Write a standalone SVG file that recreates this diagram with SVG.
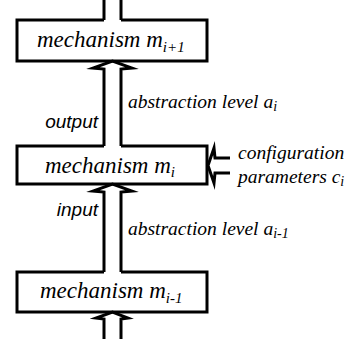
<svg xmlns="http://www.w3.org/2000/svg" width="347" height="339" viewBox="0 0 347 339">
  <style>
    .box { fill: none; stroke: #000; stroke-width: 3; stroke-linejoin: miter; }
    .conn { fill: none; stroke: #000; stroke-width: 3; stroke-linejoin: miter; stroke-miterlimit: 10; }
    .serif { font-family: 'Liberation Serif', serif; font-style: italic; fill: #000; }
    .mech { font-size: 23px; }
    .lbl { font-size: 19.5px; }
    .io { font-family: 'Liberation Sans', sans-serif; font-style: italic; font-size: 19px; fill: #000; }
    .sub { font-size: 15px; }
    .sub2 { font-size: 14px; }
  </style>

  <!-- mechanism nodes: box outlines leave an opening where the double-line shafts enter -->
  <g id="node-m-next">
    <path class="box" d="M104,20 H17 V61 H207 V20 H121"/>
    <text class="serif mech" x="37" y="47">mechanism m<tspan class="sub" dy="5">i+1</tspan></text>
  </g>

  <g id="node-m-cur">
    <path class="box" d="M104,146 H17 V184 H207 V146 H121"/>
    <text class="serif mech" x="45" y="173">mechanism m<tspan class="sub" dy="4">i</tspan></text>
  </g>

  <g id="node-m-prev">
    <path class="box" d="M104,272 H17 V312 H207 V272 H121"/>
    <text class="serif mech" x="40" y="298">mechanism m<tspan class="sub" dy="5">i-1</tspan></text>
  </g>

  <!-- double-line hollow arrows between the layers -->
  <g id="connectors">
    <!-- leaving the top mechanism -->
    <path class="conn" d="M104,0 V20 M121,0 V20"/>
    <!-- m_i to m_i+1 -->
    <path class="conn" d="M104,146 V69 L93,68 L112.5,61 L132,68 L121,69 V146"/>
    <!-- m_i-1 to m_i -->
    <path class="conn" d="M104,272 V192 L93,191 L112.5,184 L132,191 L121,192 V272"/>
    <!-- entering the bottom mechanism -->
    <path class="conn" d="M104,339 V319 L96,318 L112.5,312 L128,318 L121,319 V339"/>
    <!-- configuration parameters into m_i -->
    <path class="conn" d="M230,158 H215 L214,148 L208,165.5 L214,183 L215,173 H230"/>
  </g>

  <!-- edge labels -->
  <g id="labels">
    <text class="io" x="98" y="128" text-anchor="end">output</text>
    <text class="io" x="98" y="216" text-anchor="end">input</text>
    <text class="serif lbl" x="128" y="108">abstraction level a<tspan class="sub2" dy="3">i</tspan></text>
    <text class="serif lbl" x="128" y="235">abstraction level a<tspan class="sub2" dy="3">i-1</tspan></text>
    <text class="serif lbl" x="238" y="159">configuration</text>
    <text class="serif lbl" x="238" y="183">parameters c<tspan class="sub2" dy="3">i</tspan></text>
  </g>
</svg>
